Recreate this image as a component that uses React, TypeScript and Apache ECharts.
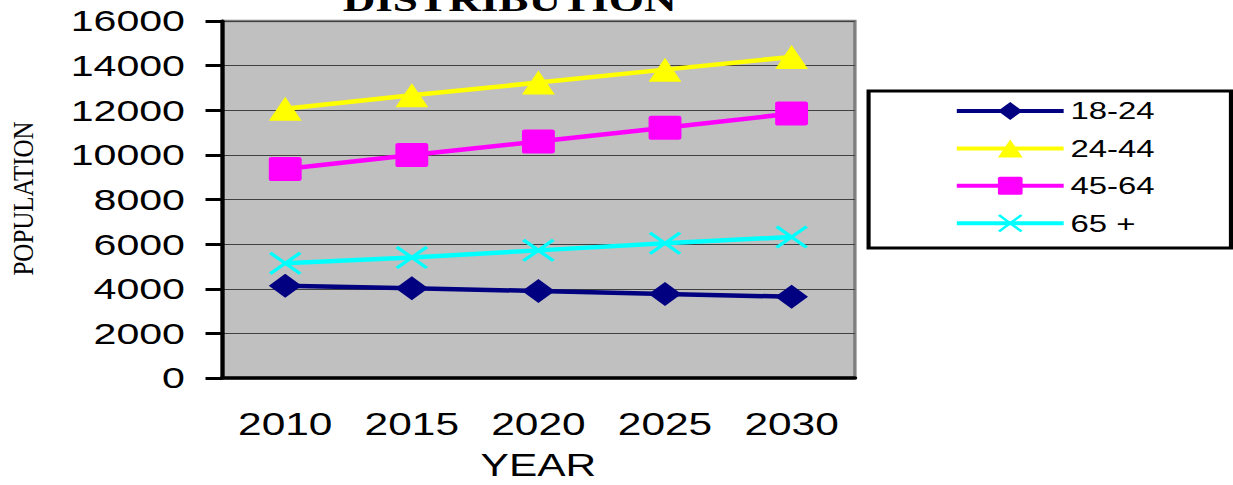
import React, { useEffect, useRef } from "react";
import * as echarts from "echarts";

const years = ["2010", "2015", "2020", "2025", "2030"];
const seriesNames = ["18-24", "24-44", "45-64", "65 +"];
const age18to24 = [4140, 4020, 3900, 3770, 3640];
const age24to44 = [12070, 12670, 13240, 13820, 14390];
const age45to64 = [9370, 9990, 10600, 11220, 11850];
const age65plus = [5140, 5400, 5720, 6040, 6320];
const yTicks = { min: 0, max: 16000, interval: 2000 };

const SX = 1.37;
const W = 1233 / SX;
const H = 485;

const xSymbol =
  "path://M0,2.1 L2.1,0 L12,9.9 L21.9,0 L24,2.1 L14.1,12 L24,21.9 L21.9,24 L12,14.1 L2.1,24 L0,21.9 L9.9,12 Z";
const squareSymbol =
  "path://M2,0 L22,0 Q24,0 24,2 L24,22 Q24,24 22,24 L2,24 Q0,24 0,22 L0,2 Q0,0 2,0 Z";

export default function App() {
  const ref = useRef<HTMLDivElement>(null);
  useEffect(() => {
    if (!ref.current) return;
    const chart = echarts.init(ref.current, undefined, { renderer: "svg" });
    const sans = "'Liberation Sans', Arial, sans-serif";
    const serif = "'Liberation Serif', 'Times New Roman', serif";
    const mk = (name: string, data: number[], color: string, symbol: string, size: number | number[]) => ({
      name,
      type: "line",
      data,
      symbol,
      symbolSize: size,
      lineStyle: { color, width: 4.5 },
      itemStyle: { color },
      emphasis: { disabled: true },
    });
    chart.setOption({
      animation: false,
      grid: {
        left: 162,
        right: W - 624,
        top: 21,
        bottom: H - 378,
        outerBoundsMode: "none",
        containLabel: false,
        show: true,
        backgroundColor: "#C0C0C0",
        borderColor: "#808080",
        borderWidth: 2.5,
      },
      graphic: [
        {
          type: "text",
          x: 372,
          y: 17,
          style: {
            text: "DISTRIBUTION",
            font: "bold 33px " + serif,
            fill: "#000",
            textAlign: "center",
            textVerticalAlign: "bottom",
          },
        },
        {
          type: "text",
          x: 16.8,
          y: 198.5,
          rotation: Math.PI / 2,
          scaleX: 1.0,
          scaleY: 0.85,
          style: {
            text: "POPULATION",
            font: "25px " + serif,
            fill: "#000",
            textAlign: "center",
            textVerticalAlign: "middle",
          },
        },
        {
          type: "rect",
          shape: { x: 634, y: 91, width: 264.5, height: 157 },
          style: { fill: "#fff", stroke: "#000", lineWidth: 3 },
          z: 1,
        },
      ],
      legend: {
        orient: "vertical",
        left: 696.4,
        top: 99,
        padding: 0,
        itemWidth: 78,
        itemHeight: 22.5,
        itemGap: 13.4,
        z: 10,
        data: seriesNames,
        lineStyle: { width: 4 },
        textStyle: { fontFamily: sans, fontSize: 24, color: "#000", padding: [0, 0, 0, 0] },
      },
      xAxis: {
        type: "category",
        data: years,
        boundaryGap: true,
        name: "YEAR",
        nameLocation: "middle",
        nameGap: 72,
        nameTextStyle: { fontFamily: sans, fontSize: 31, color: "#000" },
        axisLine: { lineStyle: { color: "#000", width: 3.5 } },
        axisTick: { length: 10, lineStyle: { color: "#000", width: 3 } },
        axisLabel: { fontFamily: sans, fontSize: 31, color: "#000", margin: 31 },
        splitLine: { show: false },
      },
      yAxis: {
        type: "value",
        min: yTicks.min,
        max: yTicks.max,
        interval: yTicks.interval,
        axisLine: { show: true, lineStyle: { color: "#000", width: 3 } },
        axisTick: { show: true, length: 12, lineStyle: { color: "#000", width: 3 } },
        axisLabel: {
          fontFamily: sans,
          fontSize: 30,
          color: "#000",
          margin: 27,
          formatter: (v: number) => String(v),
        },
        splitLine: { show: true, lineStyle: { color: "#404040", width: 1.2 } },
      },
      series: [
        mk(seriesNames[0], age18to24, "#000080", "diamond", 24),
        mk(seriesNames[1], age24to44, "#FFFF00", "triangle", 24),
        mk(seriesNames[2], age45to64, "#FF00FF", squareSymbol, 24),
        mk(seriesNames[3], age65plus, "#00FFFF", xSymbol, [24, 23]),
      ],
    });
    return () => chart.dispose();
  }, []);
  return (
    <div
      ref={ref}
      style={{
        position: "absolute",
        left: 0,
        top: 0,
        width: W,
        height: H,
        transform: `scaleX(${SX})`,
        transformOrigin: "0 0",
        background: "#fff",
      }}
    />
  );
}
